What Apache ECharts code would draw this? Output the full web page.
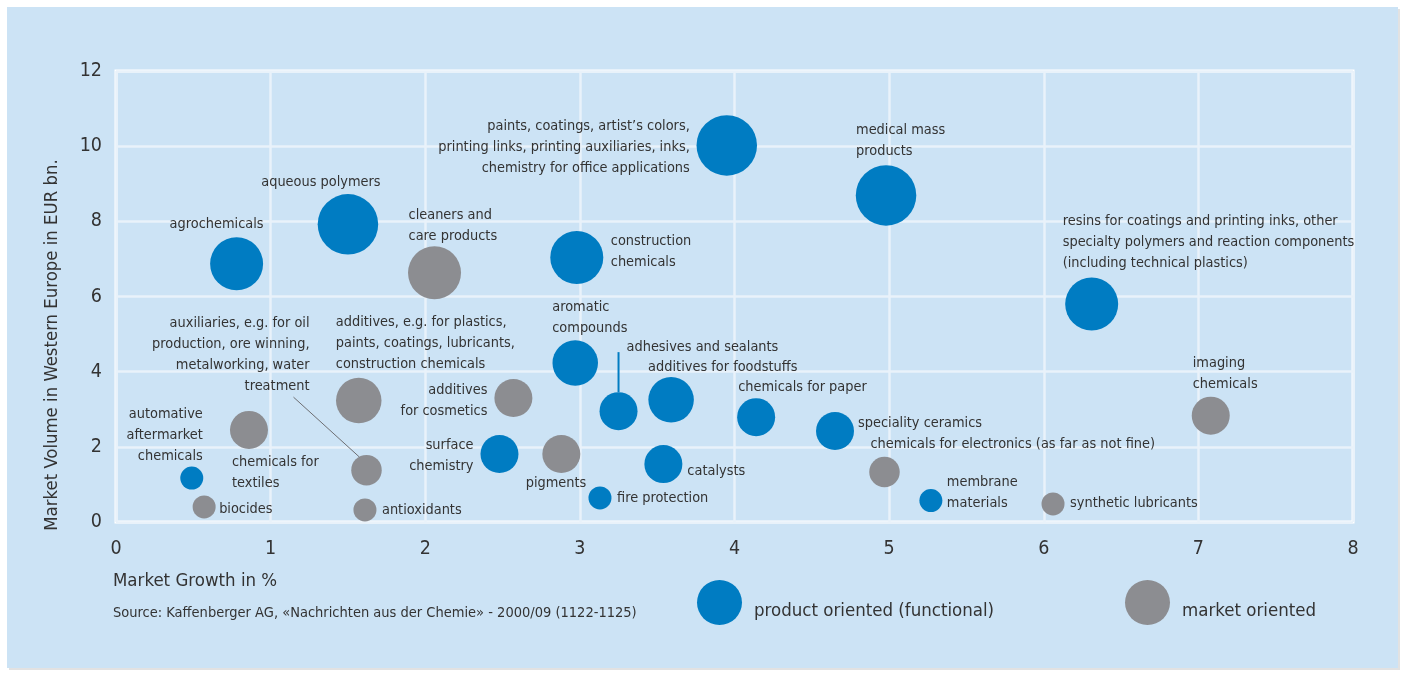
<!DOCTYPE html>
<html><head><meta charset="utf-8">
<script src="https://cdn.jsdelivr.net/npm/echarts@6/dist/echarts.min.js"></script>
<style>html,body{margin:0;padding:0;background:#fff}#c{width:1405px;height:673px}</style>
</head><body><div id="c"></div>
<script>
// ---------------- data ----------------
const productNames = [
  'agrochemicals', 'aqueous polymers',
  'paints, coatings, artist\u2019s colors,\nprinting links, printing auxiliaries, inks,\nchemistry for office applications',
  'medical mass\nproducts', 'construction\nchemicals',
  'resins for coatings and printing inks, other\nspecialty polymers and reaction components\n(including technical plastics)',
  'aromatic\ncompounds', 'adhesives and sealants', 'additives for foodstuffs',
  'chemicals for paper', 'speciality ceramics', 'surface\nchemistry', 'catalysts',
  'fire protection', 'automative\naftermarket\nchemicals', 'membrane\nmaterials'
];
const productGrowth = [0.78, 1.50, 3.95, 4.98, 2.98, 6.31, 2.97, 3.25, 3.59, 4.14, 4.65, 2.48, 3.54, 3.13, 0.49, 5.27];
const productVolume = [6.87, 7.92, 10.02, 8.69, 7.04, 5.80, 4.23, 2.95, 3.25, 2.79, 2.42, 1.81, 1.54, 0.64, 1.17, 0.57];
const productSizeClass = [5, 6, 6, 6, 5, 5, 4, 3, 4, 3, 3, 3, 3, 1, 1, 1];

const marketNames = [
  'cleaners and\ncare products',
  'additives, e.g. for plastics,\npaints, coatings, lubricants,\nconstruction chemicals',
  'additives\nfor cosmetics', 'chemicals for\ntextiles',
  'auxiliaries, e.g. for oil\nproduction, ore winning,\nmetalworking, water\ntreatment',
  'pigments', 'biocides', 'antioxidants',
  'chemicals for electronics (as far as not fine)', 'imaging\nchemicals', 'synthetic lubricants'
];
const marketGrowth = [2.06, 1.57, 2.57, 0.86, 1.62, 2.88, 0.57, 1.61, 4.97, 7.08, 6.06];
const marketVolume = [6.63, 3.23, 3.30, 2.45, 1.38, 1.81, 0.40, 0.32, 1.33, 2.83, 0.48];
const marketSizeClass = [5, 4, 3, 3, 2, 3, 1, 1, 2, 3, 1];

const seriesNames = ['product oriented (functional)', 'market oriented'];
const xAxisTitle = 'Market Growth in %';
const yAxisTitle = 'Market Volume in Western Europe in EUR bn.';
const sourceText = 'Source: Kaffenberger AG, \u00abNachrichten aus der Chemie\u00bb - 2000/09 (1122-1125)';

// ---------------- styles ----------------
const FONT = "'Liberation Sans Narrow', 'DejaVu Sans Condensed', 'Roboto Condensed', sans-serif";
const TXT = '#333333';
const BLUE = '#007cc2';
const GRAY = '#8c8d91';
// label placement keyed by point order: [dx, dy, align] (pixels from bubble centre)
const productLabelPlace = [
  [-20, -40, 'center'], [-27, -42, 'center'], [-37, 2, 'right'], [-30, -55, 'left'],
  [34, -6, 'left'], [-29, -62, 'left'], [-23, -45, 'left'], [8, -64, 'left'],
  [-23, -33, 'left'], [-18, -30, 'left'], [23, -8, 'left'], [-26, 2, 'right'],
  [24, 7, 'left'], [17, 0, 'left'], [11, -43, 'right'], [16, -8, 'left']
];
const marketLabelPlace = [
  [-26, -47, 'left'], [-23, -57, 'left'], [-26, 3, 'right'], [-17, 43, 'left'],
  [-57, -115, 'right'], [25, 29, 'right'], [15, 2, 'left'], [17, 0, 'left'],
  [-14, -28, 'left'], [-18, -42, 'left'], [17, -1, 'left']
];
const sizeOf = c => 15.5 + 7.5 * c;

function build(names, xs, ys, sz, place) {
  return names.map((n, i) => ({
    name: n,
    value: [xs[i], ys[i], sz[i]],
    label: { offset: [place[i][0], place[i][1]], align: place[i][2] }
  }));
}

const chart = echarts.init(document.getElementById('c'), null, { renderer: 'canvas' });
const labelBase = {
  show: true, position: 'inside', formatter: '{b}', color: TXT,
  fontFamily: FONT, fontSize: 14.4, lineHeight: 21, verticalAlign: 'middle'
};
const legendText = {
  fontFamily: FONT, fontSize: 18.5, color: TXT, padding: [0, 0, 0, 7],
  rich: { t: { fontFamily: FONT, fontSize: 18.5, color: TXT, padding: [18, 0, 0, 0] } }
};
const option = {
  backgroundColor: '#ffffff',
  animation: false,
  textStyle: { fontFamily: FONT },
  graphic: [
    { id: 'panelShadow', type: 'rect', z: -10, shape: { x: 9, y: 9, width: 1391, height: 661 },
      style: { fill: '#e2e2e2' } },
    { id: 'panel', type: 'rect', z: -9, shape: { x: 7, y: 7, width: 1391, height: 661 },
      style: { fill: '#cce3f5' } },
    { id: 'xt', type: 'text', x: 113, y: 581,
      style: { text: xAxisTitle, fill: TXT, font: "18.5px " + FONT, verticalAlign: 'middle' } },
    { id: 'yt', type: 'text', x: 52, y: 345, rotation: Math.PI / 2,
      style: { text: yAxisTitle, fill: TXT, font: "18.4px " + FONT, align: 'center', verticalAlign: 'middle' } },
    { id: 'src', type: 'text', x: 113, y: 613,
      style: { text: sourceText, fill: TXT, font: "14.5px " + FONT, verticalAlign: 'middle' } }
  ],
  legend: [
    { data: [seriesNames[0]], left: 692, top: 575, icon: 'circle', itemWidth: 45, itemHeight: 45,
      formatter: '{t|{name}}', textStyle: legendText },
    { data: [seriesNames[1]], left: 1120, top: 575, icon: 'circle', itemWidth: 45, itemHeight: 45,
      formatter: '{t|{name}}', textStyle: legendText }
  ],
  grid: { left: 116, top: 71, width: 1237, height: 451, show: true, borderColor: '#ffffff', borderWidth: 3,
    backgroundColor: 'transparent' },
  xAxis: {
    type: 'value', min: 0, max: 8, interval: 1,
    axisLine: { show: false }, axisTick: { show: false },
    axisLabel: { color: TXT, fontFamily: FONT, fontSize: 19.5, margin: 17 },
    splitLine: { lineStyle: { color: '#e9f2fa', width: 2.5 } }
  },
  yAxis: {
    type: 'value', min: 0, max: 12, interval: 2,
    axisLine: { show: false }, axisTick: { show: false },
    axisLabel: { color: TXT, fontFamily: FONT, fontSize: 19.5, margin: 14 },
    splitLine: { lineStyle: { color: '#e9f2fa', width: 2.5 } }
  },
  series: [
    { name: seriesNames[0], type: 'scatter', itemStyle: { color: BLUE, opacity: 1 },
      symbolSize: v => sizeOf(v[2]), label: labelBase, emphasis: { disabled: true },
      data: build(productNames, productGrowth, productVolume, productSizeClass, productLabelPlace) },
    { name: seriesNames[1], type: 'scatter', itemStyle: { color: GRAY, opacity: 1 },
      symbolSize: v => sizeOf(v[2]), label: labelBase, emphasis: { disabled: true },
      data: build(marketNames, marketGrowth, marketVolume, marketSizeClass, marketLabelPlace) }
  ]
};
chart.setOption(option);

// leader lines, derived from the bubbles' own pixel positions
const iAdh = 7, iAux = 4;
const pAdh = chart.convertToPixel({ seriesIndex: 0 }, [productGrowth[iAdh], productVolume[iAdh]]);
const rAdh = sizeOf(productSizeClass[iAdh]) / 2;
const pAux = chart.convertToPixel({ seriesIndex: 1 }, [marketGrowth[iAux], marketVolume[iAux]]);
chart.setOption({
  graphic: [
    { id: 'leadAdh', type: 'line', z: 5,
      shape: { x1: pAdh[0], y1: pAdh[1] - rAdh, x2: pAdh[0], y2: pAdh[1] - rAdh - 40 },
      style: { stroke: BLUE, lineWidth: 2 } },
    { id: 'leadAux', type: 'line', z: 5,
      shape: { x1: pAux[0] - 73, y1: pAux[1] - 73, x2: pAux[0] - 7, y2: pAux[1] - 13 },
      style: { stroke: '#6d6e72', lineWidth: 1 } }
  ]
});
</script></body></html>
